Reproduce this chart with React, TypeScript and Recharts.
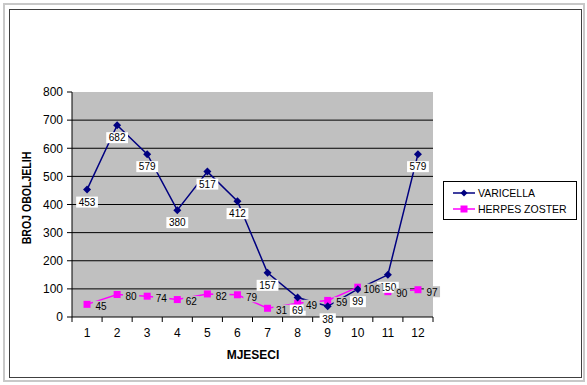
import { LineChart, Line, XAxis, YAxis, CartesianGrid } from 'recharts';

const MONTHS = ['1', '2', '3', '4', '5', '6', '7', '8', '9', '10', '11', '12'];
const VARICELLA = [453, 682, 579, 380, 517, 412, 157, 69, 38, 99, 150, 579];
const HERPES_ZOSTER = [45, 80, 74, 62, 82, 79, 31, 49, 59, 106, 90, 97];
const Y_TICKS = [0, 100, 200, 300, 400, 500, 600, 700, 800];

const data = MONTHS.map((m, i) => ({
  month: m,
  varicella: VARICELLA[i],
  herpes: HERPES_ZOSTER[i],
}));

const FONT = 'Arial, "Liberation Sans", sans-serif';
const NAVY = '#000080';
const MAGENTA = '#ff00ff';
const PLOT_LEFT = 72;
const PLOT_RIGHT = 433;
const PLOT_BOTTOM = 317;
const BAND = (PLOT_RIGHT - PLOT_LEFT) / MONTHS.length;
const LABEL_FONT = 10;

function Diamond({ cx, cy, color, r = 4 }: { cx: number; cy: number; color: string; r?: number }) {
  return (
    <polygon
      points={`${cx},${cy - r} ${cx + r},${cy} ${cx},${cy + r} ${cx - r},${cy}`}
      fill={color}
    />
  );
}

function VaricellaDot(props: any) {
  const { cx, cy, value, index } = props;
  const w = String(value).length * 5.6 + 5;
  return (
    <g key={`v-${index}`}>
      <Diamond cx={cx} cy={cy} color={NAVY} />
      <rect x={cx - w / 2} y={cy + 7} width={w} height={11} fill="#fff" />
      <text x={cx} y={cy + 16.3} textAnchor="middle" fontSize={LABEL_FONT} fill="#000" fontFamily={FONT}>
        {value}
      </text>
    </g>
  );
}

function HerpesDot(props: any) {
  const { cx, cy, index } = props;
  return <rect key={`h-${index}`} x={cx - 3.5} y={cy - 3.5} width={7} height={7} fill={MAGENTA} />;
}

function HerpesLabel(props: any) {
  const { cx, cy, value, index } = props;
  const w = String(value).length * 5.6 + 5;
  const center = cx + 14;
  return (
    <g key={`hl-${index}`}>
      <rect x={center - w / 2} y={cy - 3.5} width={w} height={11} fill="#c0c0c0" />
      <text x={center} y={cy + 5.8} textAnchor="middle" fontSize={LABEL_FONT} fill="#000" fontFamily={FONT}>
        {value}
      </text>
    </g>
  );
}

function MonthTick(props: any) {
  const { x, payload, index } = props;
  return (
    <g>
      <line x1={x + BAND / 2} y1={PLOT_BOTTOM} x2={x + BAND / 2} y2={PLOT_BOTTOM + 5} stroke="#000" />
      {index === 0 && (
        <line x1={x - BAND / 2} y1={PLOT_BOTTOM} x2={x - BAND / 2} y2={PLOT_BOTTOM + 5} stroke="#000" />
      )}
      <text x={x} y={PLOT_BOTTOM + 20} textAnchor="middle" fontSize={12} fill="#000" fontFamily={FONT}>
        {payload.value}
      </text>
    </g>
  );
}

function LegendBox() {
  const items = [
    { name: 'VARICELLA', color: NAVY, shape: 'diamond' },
    { name: 'HERPES ZOSTER', color: MAGENTA, shape: 'square' },
  ];
  return (
    <div
      style={{
        position: 'absolute',
        left: 443,
        top: 181,
        width: 134,
        height: 39,
        boxSizing: 'border-box',
        border: '1px solid #000',
        background: '#fff',
        fontFamily: FONT,
        fontSize: 10.5,
        paddingTop: 3,
      }}
    >
      {items.map((it) => (
        <div
          key={it.name}
          style={{ display: 'flex', alignItems: 'center', height: 16, whiteSpace: 'nowrap' }}
        >
          <svg width={34} height={10}>
            <line x1={9} y1={5} x2={31} y2={5} stroke={it.color} strokeWidth={1.5} />
            {it.shape === 'diamond' ? (
              <Diamond cx={20} cy={5} color={it.color} r={3.5} />
            ) : (
              <rect x={16.5} y={1.5} width={7} height={7} fill={it.color} />
            )}
          </svg>
          <span style={{ color: '#000' }}>{it.name}</span>
        </div>
      ))}
    </div>
  );
}

export default function App() {
  return (
    <div style={{ position: 'relative', width: 587, height: 385, background: '#fff', fontFamily: FONT }}>
      <style>{'body{margin:0}'}</style>
      <div
        style={{
          position: 'absolute',
          left: 3,
          top: 3,
          width: 582,
          height: 379,
          boxSizing: 'border-box',
          border: '2px solid #c8c8c8',
        }}
      />
      <div
        style={{
          position: 'absolute',
          left: 9,
          top: 9,
          width: 573,
          height: 369,
          boxSizing: 'border-box',
          border: '1px solid #404040',
        }}
      />
      <div style={{ position: 'absolute', left: 0, top: 0 }}>
        <LineChart
          width={587}
          height={385}
          data={data}
          margin={{ top: 92, right: 587 - PLOT_RIGHT, left: 12, bottom: 38 }}
          style={{ fontFamily: FONT }}
        >
          <CartesianGrid
            vertical={false}
            fill="#c0c0c0"
            stroke="#000"
            strokeOpacity={1}
            horizontalCoordinatesGenerator={({ offset }: any) =>
              Y_TICKS.filter((v) => v > 0 && v < 800).map(
                (v) => offset.top + offset.height * (1 - v / 800)
              )
            }
          />
          <XAxis
            dataKey="month"
            height={30}
            padding={{ left: BAND / 2, right: BAND / 2 }}
            axisLine={{ stroke: '#000' }}
            tickLine={false}
            tick={<MonthTick />}
            interval={0}
          />
          <YAxis
            width={60}
            domain={[0, 800]}
            ticks={Y_TICKS}
            interval={0}
            axisLine={{ stroke: '#000' }}
            tickLine={{ stroke: '#000' }}
            tickSize={5}
            tickMargin={4}
            tick={{ fontSize: 12, fill: '#000', fontFamily: FONT }}
          />
          <Line
            dataKey="herpes"
            name="HERPES ZOSTER"
            stroke={MAGENTA}
            strokeWidth={1.5}
            dot={HerpesDot}
            activeDot={false}
            isAnimationActive={false}
          />
          <Line
            dataKey="varicella"
            name="VARICELLA"
            stroke={NAVY}
            strokeWidth={1.5}
            dot={VaricellaDot}
            activeDot={false}
            isAnimationActive={false}
          />
          <Line
            dataKey="herpes"
            legendType="none"
            stroke="none"
            dot={HerpesLabel}
            activeDot={false}
            isAnimationActive={false}
          />
        </LineChart>
      </div>
      <LegendBox />
      <div
        style={{
          position: 'absolute',
          left: 27,
          top: 198,
          transform: 'translate(-50%, -50%) rotate(-90deg) scaleX(0.88)',
          fontWeight: 'bold',
          fontSize: 12,
          whiteSpace: 'nowrap',
          color: '#000',
        }}
      >
        BROJ OBOLJELIH
      </div>
      <div
        style={{
          position: 'absolute',
          left: 253,
          top: 355,
          transform: 'translate(-50%, -50%)',
          fontWeight: 'bold',
          fontSize: 12,
          whiteSpace: 'nowrap',
          color: '#000',
        }}
      >
        MJESECI
      </div>
    </div>
  );
}
